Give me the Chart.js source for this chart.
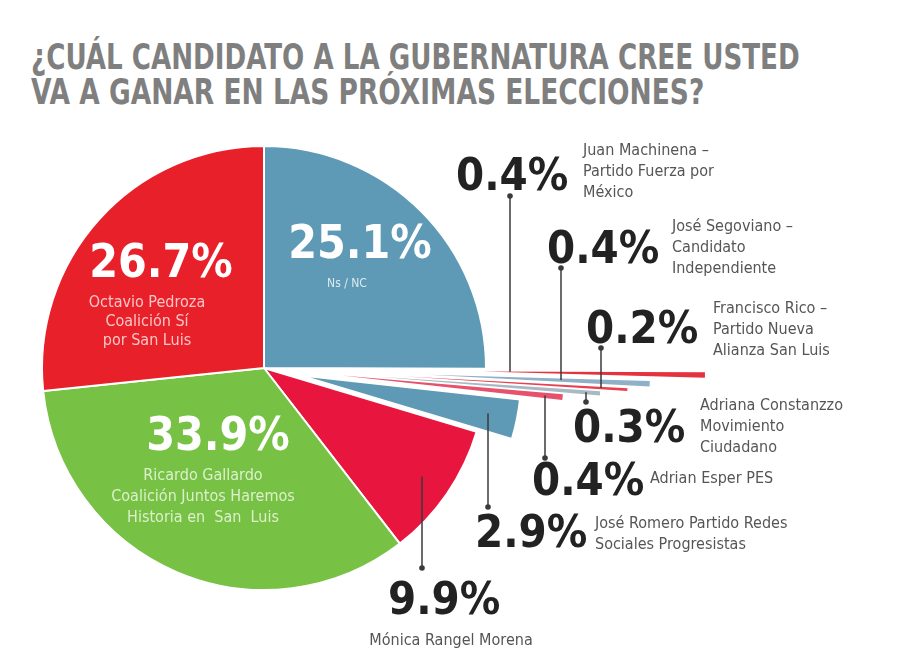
<!DOCTYPE html>
<html>
<head>
<meta charset="utf-8">
<script src="https://cdn.jsdelivr.net/npm/chart.js@4.4.0/dist/chart.umd.min.js"></script>
<style>
body { margin: 0; background: #fff; }
#wrap { position: relative; width: 900px; height: 654px; }
.title { position: absolute; left: 31px; font-family: "DejaVu Sans Condensed", "DejaVu Sans", sans-serif; font-weight: bold; font-size: 36px; line-height: 36px; color: #7f7f7f; white-space: nowrap; transform-origin: 0 0; }
canvas { position: absolute; left: 0; top: 0; }
</style>
</head>
<body>
<div id="wrap">
  <div class="title" id="t1" style="top:39px" data-w="769">¿CUÁL CANDIDATO A LA GUBERNATURA CREE USTED</div>
  <div class="title" id="t2" style="top:74px" data-w="673">VA A GANAR EN LAS PRÓXIMAS ELECCIONES?</div>
  <canvas id="chart" width="900" height="654"></canvas>
</div>
<script>
// data, clockwise from 12 o'clock
const candidates = ['Ns / NC', 'Juan Machinena', 'José Segoviano', 'Francisco Rico', 'Adriana Constanzzo',
    'Adrian Esper', 'José Romero', 'Mónica Rangel', 'Ricardo Gallardo', 'Octavio Pedroza']
const percents = [25.1, 0.4, 0.4, 0.2, 0.3, 0.4, 2.9, 9.9, 33.9, 26.7]
const labelLines = [
    ['Ns / NC'],
    ['Juan Machinena –', 'Partido Fuerza por', 'México'],
    ['José Segoviano –', 'Candidato', 'Independiente'],
    ['Francisco Rico –', 'Partido Nueva', 'Alianza San Luis'],
    ['Adriana Constanzzo', 'Movimiento', 'Ciudadano'],
    ['Adrian Esper PES'],
    ['José Romero Partido Redes', 'Sociales Progresistas'],
    ['Mónica Rangel Morena'],
    ['Ricardo Gallardo', 'Coalición Juntos Haremos', 'Historia en  San  Luis'],
    ['Octavio Pedroza', 'Coalición Sí', 'por San Luis']
]

const sliceColors = ['#5e9ab5', '#e5323f', '#8fb0c6', '#e8404e', '#a9b9c4', '#e6526b', '#5e9ab5', '#e8163f', '#77c144', '#e8202a']
// how far each slice is pulled out of the pie (px along its middle ray)
const slicePull = [0, 219, 164, 142, 115, 78, 36, 0, 0, 0]
const sliceBorders = [2, 0, 0, 0, 0, 0, 2, 2, 2, 2]

// where each label sits (inside the pie or outside with a leader line)
const placement = [
    {inside: true, pct: [360, 258], text: [347, 287], size: 12, gap: 18, color: '#dbe9f1'},
    {pct: [456, 190], text: [583, 155], leader: [510, 196]},
    {pct: [547, 263], text: [672, 231], leader: [561, 268]},
    {pct: [586, 343], text: [713, 313], leader: [601, 348]},
    {pct: [573, 442], text: [700, 410], leader: [586, 402]},
    {pct: [532, 495], text: [650, 483], leader: [545, 458]},
    {pct: [475, 547], text: [595, 528], leader: [488, 507]},
    {pct: [388, 614], text: [451, 645], leader: [422, 568], center: true},
    {inside: true, pct: [218, 450], text: [203, 480], size: 16, gap: 21, color: '#dcf0cc'},
    {inside: true, pct: [161, 277], text: [147, 307], size: 16, gap: 19, color: '#f9c6c6'}
]

const condensed = '"DejaVu Sans Condensed", "DejaVu Sans", sans-serif'

function drawText(ctx, text, x, y, font, color, align){
    ctx.save()
    ctx.font = font
    ctx.fillStyle = color
    ctx.textAlign = align
    ctx.textBaseline = 'alphabetic'
    ctx.fillText(text, x, y)
    ctx.restore()
}

// Chart.js "offset" narrows thin slices to nothing, so move the arcs ourselves
const pullPlugin = {
    id: 'pullSlices',
    afterDatasetsUpdate(chart){
        const arcs = chart.getDatasetMeta(0).data
        arcs.forEach((arc, i) => {
            const mid = (arc.startAngle + arc.endAngle) / 2
            arc.x += Math.cos(mid) * slicePull[i]
            arc.y += Math.sin(mid) * slicePull[i]
        })
    }
}

const labelPlugin = {
    id: 'sliceLabels',
    afterDatasetsDraw(chart){
        const ctx = chart.ctx
        const arcs = chart.getDatasetMeta(0).data
        arcs.forEach((arc, i) => {
            const p = placement[i]
            const pctText = percents[i].toFixed(1) + '%'
            if (p.inside){
                drawText(ctx, pctText, p.pct[0], p.pct[1], 'bold 46px ' + condensed, '#ffffff', 'center')
                labelLines[i].forEach((line, j) => {
                    drawText(ctx, line, p.text[0], p.text[1] + j * p.gap, p.size + 'px ' + condensed, p.color, 'center')
                })
                return
            }
            // leader line from the label to the slice's middle ray
            const mid = (arc.startAngle + arc.endAngle) / 2
            const lx = p.leader[0]
            const sy = arc.y + (lx - arc.x) * Math.tan(mid)
            ctx.save()
            ctx.strokeStyle = '#3a3a3a'
            ctx.lineWidth = 1.5
            ctx.beginPath()
            ctx.moveTo(lx, p.leader[1])
            ctx.lineTo(lx, sy)
            ctx.stroke()
            ctx.fillStyle = '#3a3a3a'
            ctx.beginPath()
            ctx.arc(lx, p.leader[1], 2.8, 0, Math.PI * 2)
            ctx.fill()
            ctx.restore()

            drawText(ctx, pctText, p.pct[0], p.pct[1], 'bold 45px ' + condensed, '#222222', 'left')
            if (p.center){
                drawText(ctx, labelLines[i][0], p.text[0], p.text[1], '16px ' + condensed, '#555555', 'center')
            } else {
                labelLines[i].forEach((line, j) => {
                    drawText(ctx, line, p.text[0], p.text[1] + j * 21, '16px ' + condensed, '#555555', 'left')
                })
            }
        })
    }
}

const chart = new Chart(document.getElementById('chart'), {
    type: 'pie',
    data: {
        labels: candidates,
        datasets: [{
            data: percents,
            backgroundColor: sliceColors,
            borderColor: '#ffffff',
            borderWidth: sliceBorders,
            radius: 222,
            clip: false
        }]
    },
    options: {
        responsive: false,
        animation: false,
        layout: { padding: { left: 20, right: 392, top: 130, bottom: 48 } },
        plugins: {
            legend: { display: false },
            tooltip: { enabled: false },
            title: { display: false }
        }
    },
    plugins: [pullPlugin, labelPlugin]
})

// squeeze the title lines to the width they take in the picture
document.querySelectorAll('.title').forEach(el => {
    const w = parseFloat(el.dataset.w)
    el.style.transform = 'scaleX(' + (w / el.offsetWidth) + ')'
})
</script>
</body>
</html>
